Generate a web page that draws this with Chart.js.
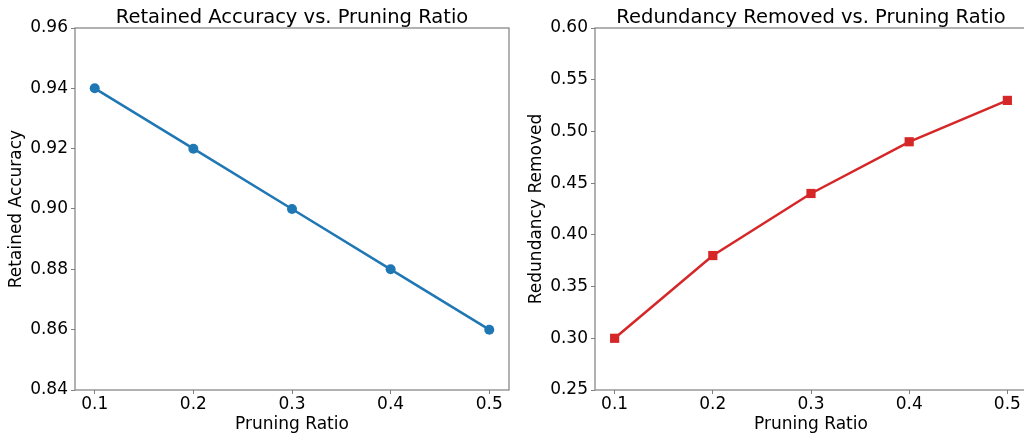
<!DOCTYPE html>
<html>
<head>
<meta charset="utf-8">
<script src="https://cdn.jsdelivr.net/npm/chart.js@4"></script>
<style>
  html, body { margin: 0; padding: 0; background: #fff; }
  body { width: 1024px; height: 435px; overflow: hidden; position: relative; }
  .box { position: absolute; top: 0; width: 520px; height: 435px; }
</style>
</head>
<body>
<div class="box" style="left:0"><canvas id="acc" width="520" height="435"></canvas></div>
<div class="box" style="left:520px"><canvas id="red" width="520" height="435"></canvas></div>
<script>
const pruningRatios = [0.1, 0.2, 0.3, 0.4, 0.5];
const retainedAccuracy = [0.94, 0.92, 0.90, 0.88, 0.86];
const redundancyRemoved = [0.30, 0.38, 0.44, 0.49, 0.53];

const xTicks = [0.1, 0.2, 0.3, 0.4, 0.5];
const accTicks = [0.84, 0.86, 0.88, 0.90, 0.92, 0.94, 0.96];
const redTicks = [0.25, 0.30, 0.35, 0.40, 0.45, 0.50, 0.55, 0.60];

const FONT = "'DejaVu Sans', sans-serif";
const AXIS_GRAY = "#7f7f7f";

// matplotlib-like frame and title above the plot area
const framePlugin = {
  id: "frame",
  afterDraw(chart, args, opts) {
    const { ctx, chartArea: a } = chart;
    ctx.save();
    ctx.strokeStyle = AXIS_GRAY;
    ctx.lineWidth = 1.2;
    ctx.strokeRect(a.left, a.top, a.right - a.left, a.bottom - a.top);
    ctx.fillStyle = "#000";
    ctx.font = "19.5px " + FONT;
    ctx.textAlign = "center";
    ctx.textBaseline = "alphabetic";
    ctx.fillText(opts.text, (a.left + a.right) / 2, a.top - 5);
    ctx.restore();
  }
};

function makeChart(id, values, color, style, yTicks, yLabel, title, padRight) {
  const ctx = document.getElementById(id).getContext("2d");
  return new Chart(ctx, {
    type: "line",
    data: {
      datasets: [{
        data: pruningRatios.map((x, i) => ({ x, y: values[i] })),
        borderColor: color,
        backgroundColor: color,
        borderWidth: 2.5,
        pointStyle: style,
        pointRadius: style === "rect" ? 6.5 : 5,
        pointBorderWidth: 0,
        tension: 0
      }]
    },
    options: {
      responsive: false,
      animation: false,
      layout: { padding: { top: 28, right: padRight, left: 0, bottom: 0 } },
      plugins: {
        legend: { display: false },
        tooltip: { enabled: false },
        frame: { text: title }
      },
      scales: {
        x: {
          type: "linear",
          min: 0.08,
          max: 0.52,
          afterBuildTicks: s => { s.ticks = xTicks.map(v => ({ value: v })); },
          afterFit: s => { s.height = 45; },
          grid: { drawOnChartArea: false, drawTicks: true, tickLength: 4, color: AXIS_GRAY },
          border: { display: false },
          ticks: { color: "#000", font: { family: FONT, size: 17 }, padding: 0, maxRotation: 0,
                   callback: v => v.toFixed(1) },
          title: { display: true, text: "Pruning Ratio", color: "#000",
                   font: { family: FONT, size: 17 }, padding: { top: 0, bottom: 0 } }
        },
        y: {
          min: yTicks[0],
          max: yTicks[yTicks.length - 1],
          afterBuildTicks: s => { s.ticks = yTicks.map(v => ({ value: v })); },
          afterFit: s => { s.width = 75; },
          grid: { drawOnChartArea: false, drawTicks: true, tickLength: 4, color: AXIS_GRAY },
          border: { display: false },
          ticks: { color: "#000", font: { family: FONT, size: 17 }, padding: 3,
                   callback: v => v.toFixed(2) },
          title: { display: true, text: yLabel, color: "#000",
                   font: { family: FONT, size: 17 }, padding: { top: 6, bottom: 0 } }
        }
      }
    },
    plugins: [framePlugin]
  });
}

makeChart("acc", retainedAccuracy, "#1f77b4", "circle", accTicks, "Retained Accuracy",
          "Retained Accuracy vs. Pruning Ratio", 11);
makeChart("red", redundancyRemoved, "#d62728", "rect", redTicks, "Redundancy Removed",
          "Redundancy Removed vs. Pruning Ratio", 13);
</script>
</body>
</html>
